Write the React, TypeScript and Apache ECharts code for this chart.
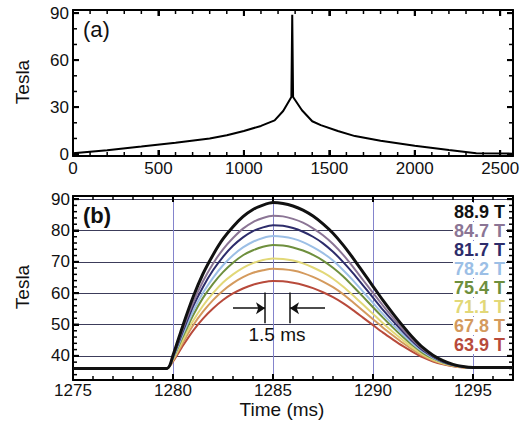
import React, { useEffect, useRef } from "react";
import * as echarts from "echarts";

// Panel (a): full pulse, time (ms) and field (T)
const overviewTime = [0, 200, 400, 600, 800, 900, 1000, 1100, 1180, 1230, 1278, 1283, 1285, 1288, 1340, 1400, 1450, 1550, 1650, 1800, 2000, 2200, 2360, 2575];
const overviewField = [0.5, 2.5, 4.8, 7.2, 10, 12, 14.8, 18, 21.5, 27.5, 36.5, 89, 89, 36.5, 28, 21, 18.5, 14.8, 11.5, 8.5, 5.3, 2.6, 0.6, 0.3];

// Panel (b): zoom on the short pulse
const timeMs = [1275, 1279.7, 1280, 1280.5, 1281, 1281.5, 1282, 1282.5, 1283, 1283.5, 1284, 1284.5, 1285, 1285.5, 1286, 1286.5, 1287, 1287.5, 1288, 1288.5, 1289, 1289.5, 1290, 1290.5, 1291, 1291.5, 1292, 1292.5, 1293, 1293.5, 1294, 1294.5, 1295, 1296, 1297];

const pulse889 = [36, 36, 40.2, 49.8, 58.7, 66.2, 72.2, 77.3, 81.2, 84.4, 86.7, 88.1, 88.9, 88.6, 87.8, 86.5, 84.6, 82.1, 79.1, 75.4, 71.2, 66.7, 62.2, 57.7, 53.5, 49.5, 45.8, 42.6, 40.2, 38.5, 37.3, 36.6, 36.3, 36.3, 36.3];
const pulse847 = [36, 36, 39.9, 48.7, 56.9, 63.8, 69.4, 74.0, 77.6, 80.6, 82.7, 84.0, 84.7, 84.5, 83.7, 82.5, 80.7, 78.5, 75.7, 72.3, 68.4, 64.2, 60.1, 56.0, 52.1, 48.4, 45.0, 42.1, 39.9, 38.3, 37.2, 36.6, 36.2, 36.2, 36.2];
const pulse817 = [36, 36, 39.7, 47.9, 55.7, 62.0, 67.3, 71.6, 75.1, 77.8, 79.8, 81.0, 81.7, 81.5, 80.8, 79.6, 78.0, 75.9, 73.2, 70.0, 66.4, 62.5, 58.6, 54.7, 51.1, 47.7, 44.5, 41.7, 39.7, 38.1, 37.1, 36.5, 36.2, 36.2, 36.2];
const pulse782 = [36, 36, 39.4, 47.0, 54.1, 60.1, 64.9, 68.9, 72.1, 74.6, 76.4, 77.6, 78.2, 78.0, 77.4, 76.3, 74.7, 72.8, 70.4, 67.4, 64.1, 60.5, 56.9, 53.3, 49.9, 46.8, 43.8, 41.3, 39.4, 38.0, 37.1, 36.5, 36.2, 36.2, 36.2];
const pulse754 = [36, 36, 39.2, 46.2, 52.9, 58.5, 63.0, 66.7, 69.7, 72.1, 73.7, 74.8, 75.4, 75.2, 74.6, 73.6, 72.2, 70.4, 68.1, 65.4, 62.2, 58.9, 55.5, 52.2, 49.0, 46.0, 43.3, 40.9, 39.2, 37.9, 37.0, 36.5, 36.2, 36.2, 36.2];
const pulse711 = [36, 36, 38.8, 45.1, 51.1, 56.0, 60.0, 63.4, 66.0, 68.1, 69.6, 70.6, 71.1, 70.9, 70.4, 69.5, 68.2, 66.6, 64.6, 62.1, 59.3, 56.4, 53.4, 50.4, 47.6, 45.0, 42.5, 40.4, 38.8, 37.6, 36.9, 36.4, 36.2, 36.2, 36.2];
const pulse678 = [36, 36, 38.5, 44.3, 49.7, 54.1, 57.8, 60.8, 63.2, 65.1, 66.5, 67.3, 67.8, 67.6, 67.2, 66.4, 65.2, 63.7, 61.9, 59.7, 57.1, 54.4, 51.7, 49.0, 46.5, 44.1, 41.9, 40.0, 38.5, 37.5, 36.8, 36.4, 36.2, 36.2, 36.2];
const pulse639 = [36, 36, 38.2, 43.3, 48.0, 51.9, 55.1, 57.8, 59.9, 61.5, 62.7, 63.5, 63.9, 63.8, 63.3, 62.6, 61.6, 60.3, 58.7, 56.8, 54.6, 52.2, 49.8, 47.4, 45.2, 43.1, 41.2, 39.5, 38.2, 37.3, 36.7, 36.3, 36.1, 36.1, 36.1];

const pulseLabels = ["88.9 T", "84.7 T", "81.7 T", "78.2 T", "75.4 T", "71.1 T", "67.8 T", "63.9 T"];
const pulseData = [pulse889, pulse847, pulse817, pulse782, pulse754, pulse711, pulse678, pulse639];
const pulseColors = ["#111111", "#8b7595", "#2d2c6b", "#9cbfe6", "#6e8f3d", "#e2d878", "#d49a5d", "#b84a3b"];

// Axis ranges
const rangeA_x = [0, 2575];
const rangeA_y = [-1.2, 92];
const rangeB_x = [1275, 1297];
const rangeB_y = [32.3, 91];

// Tick positions (inside ticks drawn on all four borders)
const ticksA_xMajor = [0, 500, 1000, 1500, 2000, 2500];
const ticksA_xMinor = [100, 200, 300, 400, 600, 700, 800, 900, 1100, 1200, 1300, 1400, 1600, 1700, 1800, 1900, 2100, 2200, 2300, 2400];
const ticksA_yMajor = [0, 30, 60, 90];
const ticksA_yMinor = [10, 20, 40, 50, 70, 80];
const ticksB_xMajor = [1275, 1280, 1285, 1290, 1295];
const ticksB_xMinor = [1276, 1277, 1278, 1279, 1281, 1282, 1283, 1284, 1286, 1287, 1288, 1289, 1291, 1292, 1293, 1294, 1296];
const ticksB_yMajor = [40, 50, 60, 70, 80, 90];
const ticksB_yMinor = [34, 36, 38, 42, 44, 46, 48, 52, 54, 56, 58, 62, 64, 66, 68, 72, 74, 76, 78, 82, 84, 86, 88];

// 1.5 ms width marker (data coords)
const markerLeft = 1284.6;
const markerRight = 1285.85;
const markerLow = 50.4;
const markerHigh = 60.2;
const arrowY = 55.2;
const arrowFromLeft = 1283.0;
const arrowFromRight = 1287.6;
const markerText = "1.5 ms";
const markerTextPos = [1285.2, 46.7];

const FONT = "'Liberation Sans', Arial, Helvetica, sans-serif";

// One custom series per border side; each item = [x, y, tickLength] on that border
function sideTicks(axisIdx: number, dx: number, dy: number, items: number[][]) {
  return {
    type: "custom",
    xAxisIndex: axisIdx,
    yAxisIndex: axisIdx,
    data: items,
    renderItem: (params: any, api: any) => {
      const p = api.coord([api.value(0), api.value(1)]);
      const len = api.value(2);
      return {
        type: "line",
        shape: { x1: p[0], y1: p[1], x2: p[0] + dx * len, y2: p[1] + dy * len },
        style: { stroke: "#000", lineWidth: len > 5 ? 2 : 1.5 },
      };
    },
  };
}

function panelTicks(axisIdx: number, rx: number[], ry: number[], xMaj: number[], xMin: number[], yMaj: number[], yMin: number[]) {
  const xs = (edge: number) => [...xMaj.map((v) => [v, edge, 6]), ...xMin.map((v) => [v, edge, 4])];
  const ys = (edge: number) => [...yMaj.map((v) => [edge, v, 6]), ...yMin.map((v) => [edge, v, 4])];
  return [
    sideTicks(axisIdx, 0, -1, xs(ry[0])),
    sideTicks(axisIdx, 0, 1, xs(ry[1])),
    sideTicks(axisIdx, 1, 0, ys(rx[0])),
    sideTicks(axisIdx, -1, 0, ys(rx[1])),
  ];
}

export default function App() {
  const ref = useRef<HTMLDivElement>(null);
  useEffect(() => {
    if (!ref.current) return;
    const chart = echarts.init(ref.current, null, { renderer: "svg" });
    const axisLine = { show: true, onZero: false, lineStyle: { color: "#000", width: 2 } };
    const tick = { show: true, inside: true, length: 6, lineStyle: { color: "#000", width: 2 } };
    const label = { fontSize: 17, color: "#111", fontFamily: FONT, formatter: (v: number) => String(v) };

    const xAxis: any[] = [
      { gridIndex: 0, type: "value", min: rangeA_x[0], max: rangeA_x[1], splitNumber: 5, position: "bottom", axisLine, axisTick: tick, axisLabel: { ...label, showMaxLabel: false, margin: 4 }, splitLine: { show: false } },
      { gridIndex: 1, type: "value", min: rangeB_x[0], max: rangeB_x[1], splitNumber: 5, position: "bottom", axisLine, axisTick: tick, axisLabel: { ...label, showMaxLabel: false, margin: 2 }, splitLine: { show: true, lineStyle: { color: "#8484cc", width: 1 } } },
      { gridIndex: 0, type: "value", min: rangeA_x[0], max: rangeA_x[1], splitNumber: 5, position: "top", axisLine, axisTick: tick, axisLabel: { show: false }, splitLine: { show: false } },
      { gridIndex: 1, type: "value", min: rangeB_x[0], max: rangeB_x[1], splitNumber: 5, position: "top", axisLine, axisTick: tick, axisLabel: { show: false }, splitLine: { show: false } },
    ];
    const yAxis: any[] = [
      { gridIndex: 0, type: "value", min: rangeA_y[0], max: rangeA_y[1], splitNumber: 3, position: "left", axisLine, axisTick: tick, axisLabel: { ...label, showMinLabel: false, showMaxLabel: false, margin: 4 }, splitLine: { show: false } },
      { gridIndex: 1, type: "value", min: rangeB_y[0], max: rangeB_y[1], splitNumber: 5, position: "left", axisLine, axisTick: tick, axisLabel: { ...label, showMinLabel: false, showMaxLabel: false, margin: 3 }, splitLine: { show: true, lineStyle: { color: "#3c3c5a", width: 1 } } },
      { gridIndex: 0, type: "value", min: rangeA_y[0], max: rangeA_y[1], splitNumber: 3, position: "right", axisLine, axisTick: tick, axisLabel: { show: false }, splitLine: { show: false } },
      { gridIndex: 1, type: "value", min: rangeB_y[0], max: rangeB_y[1], splitNumber: 5, position: "right", axisLine, axisTick: tick, axisLabel: { show: false }, splitLine: { show: false } },
    ];

    const pulseSeries: any[] = pulseData
      .map((vals, i) => ({
        type: "line",
        name: pulseLabels[i],
        xAxisIndex: 1,
        yAxisIndex: 1,
        data: timeMs.map((t, k) => [t, vals[k]]),
        showSymbol: false,
        smooth: 0.25,
        lineStyle: { color: pulseColors[i], width: i === 0 ? 3 : 2 },
        z: 10 - i,
      }))
      .reverse();

    const markerSeries = {
      type: "line",
      xAxisIndex: 1,
      yAxisIndex: 1,
      data: [[markerLeft, markerLow]],
      showSymbol: false,
      lineStyle: { opacity: 0 },
      z: 20,
      markLine: {
        silent: true,
        symbol: ["none", "none"],
        symbolSize: 9,
        label: { show: false },
        lineStyle: { color: "#111", width: 1.5, type: "solid" },
        data: [
          [{ coord: [markerLeft, markerLow] }, { coord: [markerLeft, markerHigh] }],
          [{ coord: [markerRight, markerLow] }, { coord: [markerRight, markerHigh] }],
          [{ coord: [arrowFromLeft, arrowY], symbol: "none" }, { coord: [markerLeft, arrowY], symbol: "arrow" }],
          [{ coord: [arrowFromRight, arrowY], symbol: "none" }, { coord: [markerRight, arrowY], symbol: "arrow" }],
        ],
      },
      markPoint: {
        symbol: "circle",
        symbolSize: 1,
        itemStyle: { color: "rgba(0,0,0,0)" },
        label: { show: true, position: "inside", formatter: markerText, fontSize: 19, color: "#111", fontFamily: FONT },
        data: [{ coord: markerTextPos }],
      },
    };

    const tickSeries: any[] = [
      ...panelTicks(0, rangeA_x, rangeA_y, ticksA_xMajor, ticksA_xMinor, ticksA_yMajor, ticksA_yMinor),
      ...panelTicks(1, rangeB_x, rangeB_y, ticksB_xMajor, ticksB_xMinor, ticksB_yMajor, ticksB_yMinor),
    ];

    const legendTexts = pulseLabels.map((txt, i) => ({
      type: "text",
      right: 23,
      top: 203 + i * 19,
      z: 50,
      style: { text: txt, fill: pulseColors[i], font: `bold 18px ${FONT}`, backgroundColor: "#fff", padding: [0, 1] },
    }));

    chart.setOption({
      animation: false,
      grid: [
        { left: 73, top: 10, width: 440, height: 146 },
        { left: 73, top: 196, width: 440, height: 184 },
      ],
      xAxis,
      yAxis,
      series: [
        {
          type: "line",
          xAxisIndex: 0,
          yAxisIndex: 0,
          data: overviewTime.map((t, k) => [t, overviewField[k]]),
          showSymbol: false,
          lineStyle: { color: "#000", width: 2 },
        },
        ...pulseSeries,
        markerSeries,
        ...tickSeries,
      ],
      graphic: [
        { type: "text", left: 83, top: 18, style: { text: "(a)", fill: "#111", font: `22px ${FONT}` } },
        { type: "text", left: 83, top: 204, style: { text: "(b)", fill: "#111", font: `bold 22px ${FONT}` } },
        { type: "text", x: 22, y: 82, rotation: Math.PI / 2, style: { text: "Tesla", fill: "#111", font: `19px ${FONT}`, align: "center", verticalAlign: "middle", textAlign: "center", textVerticalAlign: "middle" } },
        { type: "text", x: 22, y: 287, rotation: Math.PI / 2, style: { text: "Tesla", fill: "#111", font: `19px ${FONT}`, align: "center", verticalAlign: "middle", textAlign: "center", textVerticalAlign: "middle" } },
        { type: "text", x: 282, y: 409, style: { text: "Time (ms)", fill: "#111", font: `19px ${FONT}`, align: "center", verticalAlign: "middle", textAlign: "center", textVerticalAlign: "middle" } },
        ...legendTexts,
      ],
    });
    return () => chart.dispose();
  }, []);
  return <div ref={ref} style={{ width: 529, height: 421, position: "absolute", left: 0, top: 0 }} />;
}
